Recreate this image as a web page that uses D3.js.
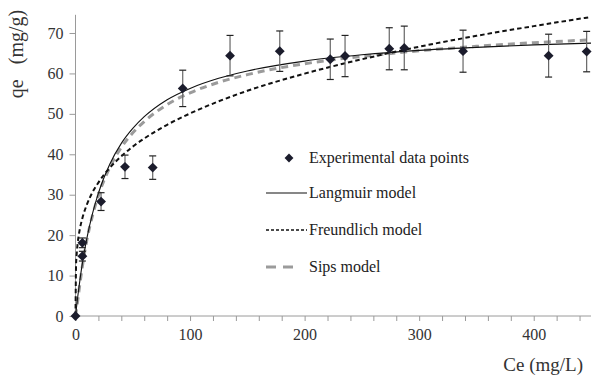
<!DOCTYPE html>
<html>
<head>
<meta charset="utf-8">
<script src="https://cdn.jsdelivr.net/npm/d3@7/dist/d3.min.js"></script>
<style>
  html, body { margin: 0; padding: 0; background: #fff; }
  svg { display: block; }
  svg text { font-family: "Liberation Serif", "Times New Roman", Tinos, "Nimbus Roman", "DejaVu Serif", serif !important; }
</style>
</head>
<body>
<svg id="chart" width="605" height="379"></svg>
<script>
// Experimental data
const ceExp = [0, 6, 6, 22.3, 43.2, 67.4, 93.6, 134.9, 178.3, 222.4, 235.3, 273.9, 287, 338.3, 413, 446.2];
const qeExp = [0, 14.8, 18.1, 28.3, 36.9, 36.7, 56.3, 64.4, 65.5, 63.5, 64.3, 66.1, 66.3, 65.5, 64.4, 65.4];
const qeErr = [0, 1.2, 1.2, 2.2, 2.9, 2.9, 4.5, 5.0, 5.0, 5.0, 5.1, 5.2, 5.4, 5.2, 5.3, 5.0];

// Model curves
const ceModel = [0, 2, 4, 6, 10, 15, 20, 30, 40, 50, 60, 80, 100, 125, 150, 200, 250, 300, 350, 400, 450];
const qeLangmuir = [0, 4.9, 9.2, 13.0, 19.3, 25.5, 30.4, 37.6, 42.7, 46.4, 49.3, 53.5, 56.3, 58.8, 60.6, 63.05, 64.6, 65.7, 66.45, 67.06, 67.5];
const qeSips = [0, 4.0, 8.3, 12.3, 18.9, 25.0, 29.8, 36.8, 41.7, 45.3, 48.1, 52.3, 55.2, 57.8, 59.7, 62.4, 64.2, 65.6, 66.7, 67.6, 68.3];
const ceFreundlich = [0, 0.5, 1, 2, 4, 6, 10, 15, 20, 30, 40, 50, 60, 80, 100, 125, 150, 200, 250, 300, 350, 400, 450];
const qeFreundlich = [0, 12.7, 15.2, 18.2, 21.8, 24.2, 27.6, 30.7, 33.0, 36.7, 39.5, 41.9, 43.9, 47.3, 50.1, 53.1, 55.7, 59.95, 63.5, 66.6, 69.3, 71.7, 73.96];

const xTicks = [0, 100, 200, 300, 400];
const xMinorTicks = d3.range(0, 441, 20);
const yTicks = [0, 10, 20, 30, 40, 50, 60, 70];

const legendLabels = ["Experimental data points", "Langmuir model", "Freundlich model", "Sips model"];

const serif = "'Liberation Serif', 'Times New Roman', Tinos, 'Nimbus Roman', 'DejaVu Serif', serif";
const svg = d3.select("#chart").attr("font-family", serif);
const x = d3.scaleLinear().domain([0, 450]).range([75.5, 591]);
const y = d3.scaleLinear().domain([0, 74.5]).range([316, 14.8]);

const axisColor = "#9a9a9a";
const textColor = "#333";

// Y axis
const yAxis = svg.append("g").attr("transform", `translate(${x(0)},0)`)
  .call(d3.axisLeft(y).tickValues(yTicks).tickSize(6).tickPadding(6).tickFormat(d3.format("d")));
yAxis.attr("font-family", serif);
yAxis.select(".domain").attr("stroke", axisColor).attr("d", `M0,${y(74.5)}V${y(0)}`);
yAxis.selectAll(".tick line").attr("stroke", axisColor);
yAxis.selectAll(".tick text").attr("fill", textColor).attr("font-size", 16);

// X axis
const xAxisMinor = svg.append("g").attr("transform", `translate(0,${y(0)})`)
  .call(d3.axisBottom(x).tickValues(xMinorTicks).tickSize(5).tickFormat(""));
xAxisMinor.select(".domain").attr("stroke", axisColor).attr("d", `M${x(0)},0H${x(450)}`);
xAxisMinor.selectAll(".tick line").attr("stroke", axisColor);

const xAxis = svg.append("g").attr("transform", `translate(0,${y(0)})`)
  .call(d3.axisBottom(x).tickValues(xTicks).tickSize(0).tickPadding(13).tickFormat(d3.format("d")));
xAxis.attr("font-family", serif);
xAxis.select(".domain").remove();
xAxis.selectAll(".tick text").attr("fill", textColor).attr("font-size", 16);

// Axis titles
svg.append("text")
  .attr("transform", `translate(23,54) rotate(-90)`)
  .attr("text-anchor", "middle")
  .attr("fill", textColor)
  .attr("font-size", 20)
  .attr("xml:space", "preserve")
  .style("white-space", "pre")
  .text("qe   (mg/g)");

svg.append("text")
  .attr("x", 583).attr("y", 371)
  .attr("text-anchor", "end")
  .attr("fill", textColor)
  .attr("font-size", 19)
  .text("Ce (mg/L)");

// Model curves
const line = d3.line().x(d => x(d[0])).y(d => y(d[1])).curve(d3.curveMonotoneX);

svg.append("path")
  .datum(ceModel.map((c, i) => [c, qeSips[i]]))
  .attr("d", line).attr("fill", "none")
  .attr("stroke", "#9b9b9b").attr("stroke-width", 3).attr("stroke-dasharray", "7,5");

svg.append("path")
  .datum(ceModel.map((c, i) => [c, qeLangmuir[i]]))
  .attr("d", line).attr("fill", "none")
  .attr("stroke", "#111").attr("stroke-width", 1.1);

svg.append("path")
  .datum(ceFreundlich.map((c, i) => [c, qeFreundlich[i]]))
  .attr("d", line).attr("fill", "none")
  .attr("stroke", "#111").attr("stroke-width", 2).attr("stroke-dasharray", "4.5,3");

// Error bars
const pts = ceExp.map((c, i) => ({ c, q: qeExp[i], e: qeErr[i] }));
const eb = svg.append("g");
const capW = 3.5;
pts.filter(d => d.e > 0).forEach(d => {
  eb.append("line").attr("x1", x(d.c)).attr("x2", x(d.c))
    .attr("y1", y(d.q + d.e)).attr("y2", y(d.q - d.e))
    .attr("stroke", "#666").attr("stroke-width", 1.2);
  [d.q + d.e, d.q - d.e].forEach(v => {
    eb.append("line").attr("x1", x(d.c) - capW).attr("x2", x(d.c) + capW)
      .attr("y1", y(v)).attr("y2", y(v))
      .attr("stroke", "#222").attr("stroke-width", 1.2);
  });
});

// Markers
const diamond = d3.symbol().type(d3.symbolDiamond2).size(62);
svg.append("g").selectAll("path").data(pts).join("path")
  .attr("transform", d => `translate(${x(d.c)},${y(d.q)})`)
  .attr("d", diamond)
  .attr("fill", "#1b1c2c");

// Legend
const lg = svg.append("g");
const rowY = [158, 193, 230, 267];
const textX = 309;
lg.append("path").attr("transform", `translate(289,${rowY[0]})`)
  .attr("d", d3.symbol().type(d3.symbolDiamond2).size(50)).attr("fill", "#1b1c2c");
lg.append("line").attr("x1", 266).attr("x2", 307).attr("y1", rowY[1]).attr("y2", rowY[1])
  .attr("stroke", "#111").attr("stroke-width", 1.1);
lg.append("line").attr("x1", 266).attr("x2", 307).attr("y1", rowY[2]).attr("y2", rowY[2])
  .attr("stroke", "#111").attr("stroke-width", 1.5).attr("stroke-dasharray", "3,2");
lg.append("line").attr("x1", 266).attr("x2", 294).attr("y1", rowY[3]).attr("y2", rowY[3])
  .attr("stroke", "#9b9b9b").attr("stroke-width", 3).attr("stroke-dasharray", "10,7");
legendLabels.forEach((t, i) => {
  lg.append("text").attr("x", textX).attr("y", rowY[i]).attr("dy", "0.33em")
    .attr("fill", "#222").attr("font-size", 16).text(t);
});
</script>
</body>
</html>
